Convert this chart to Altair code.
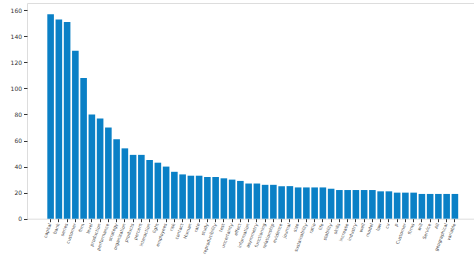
import altair as alt
import pandas as pd

words = ["capital", "bank", "series", "customer", "firm", "level", "production",
         "performance", "strategy", "organization", "products", "percent",
         "interaction", "light", "employees", "risk", "contact", "Human", "rate",
         "study", "reproducibility", "test", "uncertainty", "effect", "information",
         "asymmetry", "functioning", "relationship", "evidence", "journal",
         "size", "sustainability", "ratio", "life", "stability", "skills",
         "increase", "industry", "well", "model", "low", "cu", "p", "Customer",
         "firms", "will", "Service", "All", "geographical", "variable"]
counts = [157, 153, 151, 129, 108, 80, 77, 70, 61, 54, 49, 49, 45, 43, 40, 36,
          34, 33, 33, 32, 32, 31, 30, 29, 27, 27, 26, 26, 25, 25, 24, 24, 24, 24,
          23, 22, 22, 22, 22, 22, 21, 21, 20, 20, 20, 19, 19, 19, 19, 19]

df = pd.DataFrame({"word": words, "count": counts})

font = "DejaVu Sans"

chart = alt.Chart(df).mark_bar(color="#0a80c6").encode(
    x=alt.X("word:N", sort=None,
            scale=alt.Scale(paddingInner=0.2, paddingOuter=0, range=[20.3, 431.2]),
            axis=alt.Axis(title=None, labelAngle=290, labelAlign="right",
                          labelBaseline="middle", labelFontSize=4.5,
                          labelPadding=1.5, tickSize=3, labelColor="#444",
                          tickColor="#333", domain=False, labelOverlap=False,
                          labelFont=font)),
    y=alt.Y("count:Q", scale=alt.Scale(domain=[0, 165.6], nice=False),
            axis=alt.Axis(title=None, values=[0, 20, 40, 60, 80, 100, 120, 140, 160],
                          labelFontSize=6, tickSize=3.5, labelPadding=2,
                          labelColor="#333", tickColor="#333", grid=False,
                          domain=False, labelFont=font)),
).properties(
    width=447, height=215.7,
    autosize=alt.AutoSizeParams(type="none"),
    padding={"left": 27, "top": 3, "right": 0, "bottom": 36},
).configure_view(stroke="#333", strokeWidth=1).configure(background="white")

chart.save("out.html", embed_options={"renderer": "svg", "actions": False})
